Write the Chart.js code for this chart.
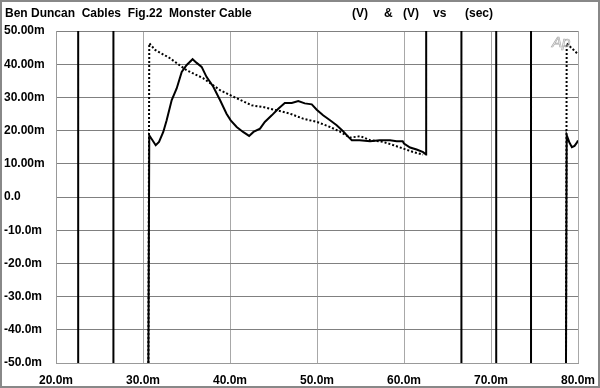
<!DOCTYPE html>
<html>
<head>
<meta charset="utf-8">
<script src="https://cdn.jsdelivr.net/npm/chart.js@4.4.1/dist/chart.umd.min.js"></script>
<style>
html, body { margin: 0; padding: 0; background: #fff; }
#c { display: block; }
</style>
</head>
<body>
<canvas id="c" width="600" height="388"></canvas>
<script>
// axis ticks
var xTicks = [20, 30, 40, 50, 60, 70, 80];
var xTickLabels = ['20.0m', '30.0m', '40.0m', '50.0m', '60.0m', '70.0m', '80.0m'];
var yTicks = [50, 40, 30, 20, 10, 0, -10, -20, -30, -40, -50];
var yTickLabels = ['50.00m', '40.00m', '30.00m', '20.00m', '10.00m', '0.0', '-10.0m', '-20.0m', '-30.0m', '-40.0m', '-50.0m'];

// full-height transients (ms)
var spikeTimes = [22.55, 26.6, 66.6, 70.6, 74.6];
var pulseStart = 30.62;
var pulseEnd = 62.55;
var tailStart = 78.62;

// main pulse, solid trace (ms, mV)
var solidT = [30.72, 31.46, 31.84, 32.33, 32.72, 33.3, 33.87, 34.45, 35.0, 35.7, 36.17, 36.74, 37.3, 38.08, 38.85, 39.6, 40.08, 40.77, 41.5, 42.2, 42.7, 43.45, 44.0, 44.8, 45.55, 46.3, 47.1, 47.85, 48.6, 49.4, 49.97, 50.7, 51.5, 52.26, 53.0, 53.6, 54.0, 54.9, 56.1, 57.2, 58.4, 59.15, 59.85, 60.0, 60.7, 61.45, 62.2, 62.53];
var solidV = [18.6, 15.6, 16.6, 19.6, 23.1, 29.2, 32.7, 37.7, 39.7, 41.5, 40.4, 39.2, 36.2, 33.2, 29.2, 25.1, 23.1, 21.1, 19.6, 18.4, 19.6, 20.6, 22.6, 24.6, 26.6, 28.3, 28.3, 28.9, 28.2, 27.9, 26.3, 24.6, 23.1, 21.6, 19.8, 18.1, 17.1, 17.1, 16.8, 17.1, 17.1, 16.8, 16.8, 16.1, 14.9, 14.3, 13.5, 12.8];

// main pulse, dotted trace
var dotT = [30.72, 31.4, 33.1, 35.0, 36.9, 38.85, 40.4, 42.5, 43.8, 45.4, 46.9, 48.4, 50.0, 51.5, 52.7, 53.8, 55.0, 56.1, 57.6, 58.8, 59.9, 61.1, 62.2];
var dotV = [46.3, 44.3, 41.8, 38.2, 35.8, 32.2, 30.2, 27.6, 27.1, 26.1, 25.1, 23.6, 22.6, 21.1, 19.6, 17.9, 18.3, 17.1, 16.6, 15.6, 14.6, 13.5, 12.8];

// next pulse at the right edge
var solidTailT = [78.7, 79.0, 79.3, 79.6, 79.85, 80.0];
var solidTailV = [18.6, 16.5, 15.0, 15.4, 16.3, 17.0];
var dotTailT = [78.7, 79.0, 79.5, 80.0];
var dotTailV = [46.3, 45.5, 44.3, 43.0];

var yMin = -50, yMax = 50;

function gap(x) { return { x: x, y: null }; }

function buildSolid() {
    var pts = [];
    spikeTimes.forEach(function (t) {
        pts.push({ x: t, y: yMin }, { x: t, y: yMax }, gap(t));
    });
    pts.push({ x: pulseStart, y: yMin });
    solidT.forEach(function (t, i) { pts.push({ x: t, y: solidV[i] }); });
    pts.push({ x: pulseEnd, y: yMax }, gap(pulseEnd));
    pts.push({ x: tailStart, y: yMin });
    solidTailT.forEach(function (t, i) { pts.push({ x: t, y: solidTailV[i] }); });
    return pts;
}

function buildDotted() {
    var pts = [{ x: pulseStart, y: yMin }];
    dotT.forEach(function (t, i) { pts.push({ x: t, y: dotV[i] }); });
    pts.push(gap(pulseEnd), { x: tailStart, y: yMin });
    dotTailT.forEach(function (t, i) { pts.push({ x: t, y: dotTailV[i] }); });
    return pts;
}

var headerPlugin = {
    id: 'header',
    afterDraw: function (chart) {
        var ctx = chart.ctx;
        ctx.save();
        ctx.fillStyle = '#000';
        ctx.font = 'bold 12px "Liberation Sans", Arial, sans-serif';
        ctx.textBaseline = 'middle';
        ctx.textAlign = 'left';
        ctx.fillText('Ben Duncan  Cables  Fig.22  Monster Cable', 5, 14);
        ctx.fillText('(V)', 352, 14);
        ctx.fillText('&', 384, 14);
        ctx.fillText('(V)', 403, 14);
        ctx.fillText('vs', 433, 14);
        ctx.fillText('(sec)', 465, 14);
        // Ap logo
        ctx.strokeStyle = '#aaa';
        ctx.lineWidth = 0.7;
        ctx.font = 'italic 15px "Liberation Sans", Arial, sans-serif';
        ctx.strokeText('Ap', 552, 43);
        // outer frame
        ctx.strokeStyle = '#888';
        ctx.lineWidth = 2;
        ctx.strokeRect(1, 1, 598, 386);
        ctx.restore();
    }
};

var ctx = document.getElementById('c').getContext('2d');
var myChart = new Chart(ctx, {
    type: 'line',
    data: {
        datasets: [{
            label: 'dotted',
            data: buildDotted(),
            borderColor: '#000',
            borderWidth: 2,
            borderDash: [2, 2],
            pointRadius: 0,
            tension: 0,
            spanGaps: false
        }, {
            label: 'solid',
            data: buildSolid(),
            borderColor: '#000',
            borderWidth: 2,
            pointRadius: 0,
            tension: 0,
            spanGaps: false
        }]
    },
    options: {
        responsive: false,
        animation: false,
        devicePixelRatio: 1,
        layout: { padding: { left: 4, top: 31, right: 22, bottom: 0 } },
        plugins: {
            legend: { display: false },
            tooltip: { enabled: false }
        },
        scales: {
            x: {
                type: 'linear',
                min: 20,
                max: 80,
                afterBuildTicks: function (s) { s.ticks = xTicks.map(function (v) { return { value: v }; }); },
                afterFit: function (s) { s.height = 25; s.paddingLeft = 0; s.paddingRight = 0; },
                ticks: {
                    color: '#000',
                    font: { family: '"Liberation Sans", Arial, sans-serif', size: 12, weight: 'bold' },
                    padding: 10,
                    maxRotation: 0,
                    callback: function (v) { return xTickLabels[xTicks.indexOf(v)]; }
                },
                grid: { color: '#a8a8a8', lineWidth: 1, drawTicks: false },
                border: { color: '#999', width: 1 }
            },
            y: {
                min: yMin,
                max: yMax,
                afterBuildTicks: function (s) { s.ticks = yTicks.slice().reverse().map(function (v) { return { value: v }; }); },
                afterFit: function (s) { s.width = 52; s.paddingTop = 0; s.paddingBottom = 0; },
                ticks: {
                    color: '#000',
                    crossAlign: 'far',
                    font: { family: '"Liberation Sans", Arial, sans-serif', size: 12, weight: 'bold' },
                    callback: function (v) { return yTickLabels[yTicks.indexOf(v)]; }
                },
                grid: { color: '#808080', lineWidth: 1, drawTicks: false },
                border: { color: '#999', width: 1 }
            }
        }
    },
    plugins: [headerPlugin]
});
</script>
</body>
</html>
